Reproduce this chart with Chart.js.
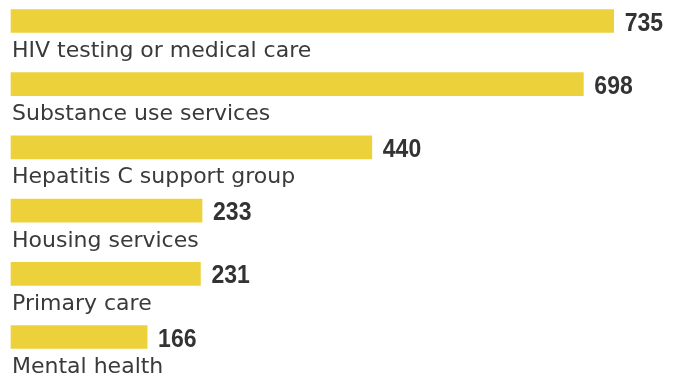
<!DOCTYPE html>
<html>
<head>
<meta charset="utf-8">
<script src="https://cdn.jsdelivr.net/npm/chart.js@4/dist/chart.umd.min.js"></script>
<style>
  html, body { margin: 0; padding: 0; background: #ffffff; }
  #wrap { width: 677px; height: 373px; }
</style>
</head>
<body>
<div id="wrap"><canvas id="chart" width="677" height="373"></canvas></div>
<script>
// Services used, with number of people for each
const categories = [
  "HIV testing or medical care",
  "Substance use services",
  "Hepatitis C support group",
  "Housing services",
  "Primary care",
  "Mental health"
];
const counts = [735, 698, 440, 233, 231, 166];

const BAR_COLOR = "#EDD13B";
const TEXT_COLOR = "#3a3a3a";
const VALUE_COLOR = "#333333";
const VALUE_SQUEEZE = 0.92; // narrows the bold count figures

// Draws the category name under each bar and the count to its right
const barLabels = {
  id: "barLabels",
  afterDatasetsDraw(chart) {
    const ctx = chart.ctx;
    const meta = chart.getDatasetMeta(0);
    const left = chart.chartArea.left;
    ctx.save();
    meta.data.forEach((bar, i) => {
      const { x, y } = bar.getProps(["x", "y"], true);
      ctx.textAlign = "left";
      ctx.textBaseline = "alphabetic";

      ctx.save();
      ctx.translate(x + 11, y + 9.5);
      ctx.scale(VALUE_SQUEEZE, 1);
      ctx.fillStyle = VALUE_COLOR;
      ctx.font = "bold 25px 'Liberation Sans', Arial, sans-serif";
      ctx.fillText(String(counts[i]), 0, 0);
      ctx.restore();

      ctx.fillStyle = TEXT_COLOR;
      ctx.font = "22px 'DejaVu Sans', sans-serif";
      ctx.fillText(categories[i], left + 1, y + 36);
    });
    ctx.restore();
  }
};

new Chart(document.getElementById("chart"), {
  type: "bar",
  data: {
    labels: categories,
    datasets: [{
      data: counts,
      backgroundColor: BAR_COLOR,
      borderWidth: 0,
      barThickness: 23,
      clip: false
    }]
  },
  options: {
    indexAxis: "y",
    responsive: false,
    animation: false,
    layout: { padding: { left: 11, right: 10, top: 21, bottom: 36 } },
    plugins: { legend: { display: false }, tooltip: { enabled: false } },
    scales: {
      x: { type: "linear", min: 0, max: 800, display: false },
      y: { type: "category", offset: false, display: false }
    }
  },
  plugins: [barLabels]
});
</script>
</body>
</html>
